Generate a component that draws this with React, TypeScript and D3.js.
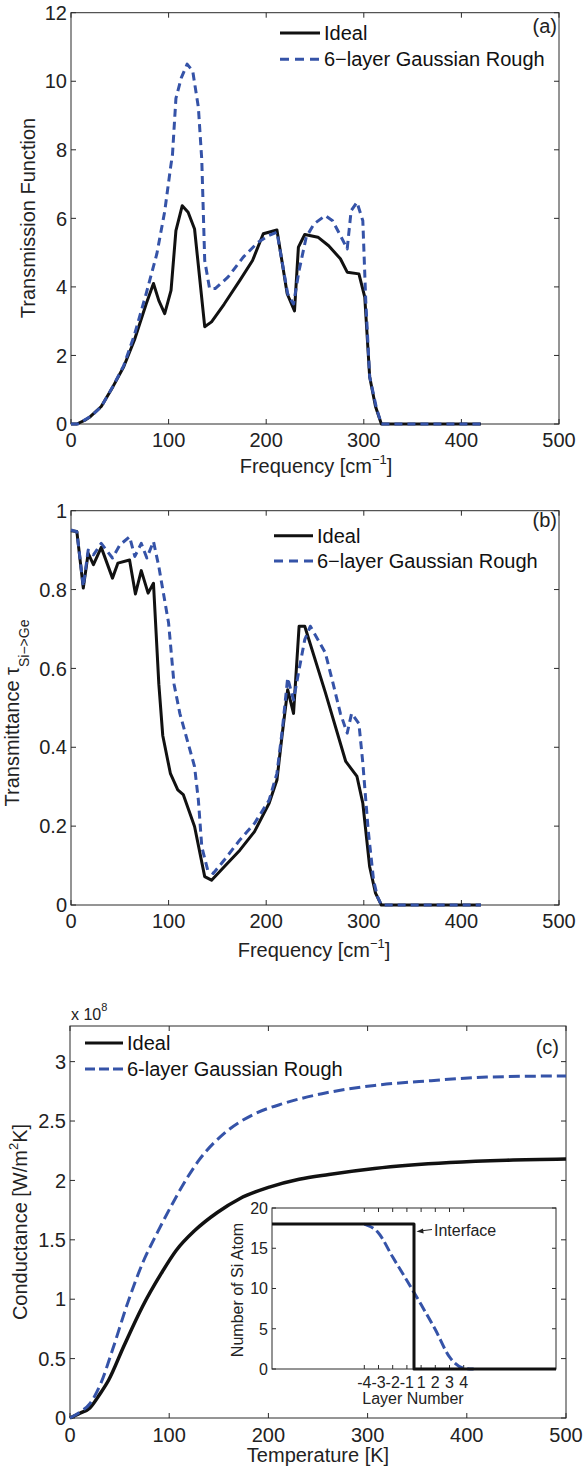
import React, { useEffect, useRef } from 'react'
import * as d3 from 'd3'

// (a) transmission function
const freqIdealA = [0, 6, 15, 20, 31, 43, 54, 65, 77, 84.5, 90, 96, 102.5, 107.5, 114, 120, 126.6, 137, 144, 157, 173, 186, 197, 211, 221.5, 229, 233, 239.5, 253, 264, 276, 283, 295, 301, 306, 312, 318, 420]
const transIdealA = [0, 0, 0.12, 0.22, 0.51, 1.09, 1.67, 2.45, 3.5, 4.1, 3.6, 3.22, 3.9, 5.64, 6.37, 6.18, 5.69, 2.84, 2.98, 3.5, 4.19, 4.77, 5.55, 5.66, 3.8, 3.3, 5.16, 5.53, 5.45, 5.2, 4.82, 4.43, 4.38, 3.7, 1.38, 0.51, 0, 0]
const freqRoughA = [0, 7, 20, 31, 43, 54, 65, 77, 88, 96, 102, 104, 107.5, 113, 119, 124.7, 130.5, 134, 137, 142, 147.7, 161, 176.5, 191.6, 203, 211, 222, 228, 233.7, 241, 249, 260.5, 268, 276, 283, 287, 293, 299, 302, 306, 313, 318, 420]
const transRoughA = [0, 0, 0.22, 0.5, 1.1, 1.7, 2.6, 3.8, 4.97, 6.2, 7.48, 7.87, 9.5, 10.1, 10.5, 10.3, 9.24, 7.7, 4.77, 3.95, 3.95, 4.29, 4.87, 5.3, 5.5, 5.6, 3.8, 3.5, 4.48, 5.45, 5.84, 6.08, 5.93, 5.5, 5.11, 6.22, 6.47, 5.93, 3.6, 1.38, 0.46, 0, 0]

// (b) transmittance
const freqIdealB = [0, 6, 12.6, 17.6, 23, 31, 42.5, 48, 60, 66, 72, 79, 84.5, 90, 94, 101.8, 109.4, 115, 126.6, 137, 144, 157, 173, 188, 203, 211, 216.5, 222, 228, 233.7, 239.5, 260.5, 281.5, 293, 299, 306, 312, 318, 420]
const transIdealB = [0.949, 0.947, 0.804, 0.892, 0.863, 0.907, 0.829, 0.867, 0.875, 0.789, 0.848, 0.791, 0.816, 0.56, 0.43, 0.334, 0.292, 0.28, 0.199, 0.072, 0.063, 0.097, 0.139, 0.186, 0.258, 0.317, 0.435, 0.546, 0.486, 0.707, 0.707, 0.54, 0.364, 0.326, 0.258, 0.097, 0.03, 0, 0]
const freqRoughB = [0, 6, 12.6, 17.6, 23, 31, 42.5, 50, 60, 65.4, 72, 77.7, 84.5, 90, 100, 105.6, 111.5, 119, 126.6, 130.5, 134, 140, 145.7, 157, 173, 188, 203, 211, 216.5, 222, 228, 233.7, 239.5, 245.2, 253, 260.5, 268, 276, 283, 287.5, 295, 299, 304.5, 310, 314, 318, 420]
const transRoughB = [0.951, 0.947, 0.808, 0.9, 0.888, 0.917, 0.88, 0.913, 0.934, 0.884, 0.917, 0.88, 0.922, 0.858, 0.715, 0.56, 0.486, 0.419, 0.351, 0.266, 0.148, 0.089, 0.08, 0.114, 0.165, 0.207, 0.266, 0.334, 0.444, 0.576, 0.52, 0.597, 0.673, 0.707, 0.673, 0.64, 0.567, 0.486, 0.436, 0.486, 0.46, 0.36, 0.19, 0.063, 0.021, 0, 0]

// (c) conductance, x 1e8
const tempIdeal = [0, 10, 20, 30, 39, 54, 73, 92, 107, 126, 148.5, 171, 201, 231, 261, 307, 383, 440, 500]
const condIdeal = [0, 0.04, 0.085, 0.2, 0.32, 0.6, 0.937, 1.217, 1.41, 1.58, 1.73, 1.846, 1.944, 2.01, 2.05, 2.1, 2.15, 2.17, 2.18]
const tempRough = [0, 10, 20, 31, 42.7, 58, 73, 88, 103, 118, 130, 156, 186, 216, 254, 307, 364, 420, 500]
const condRough = [0, 0.05, 0.12, 0.29, 0.57, 0.965, 1.3, 1.56, 1.8, 2.02, 2.17, 2.4, 2.56, 2.65, 2.73, 2.8, 2.84, 2.87, 2.88]

// inset: Si atoms per layer
const layerIdeal = [-10, 0, 0, 10]
const atomsIdeal = [18, 18, 0, 0]
const layerRough = [-3.5, -2.5, -1.5, -0.5, 0.5, 1.5, 2.5, 3.5, 4.2]
const atomsRough = [18, 16.9, 13.9, 11.0, 8.0, 4.9, 1.5, 0.1, 0]
const layerTicks = [-3.5, -2.5, -1.5, -0.5, 0.5, 1.5, 2.5, 3.5]
const layerTickLabels = ['-4', '-3', '-2', '-1', '1', '2', '3', '4']

const freqTicks = [0, 100, 200, 300, 400, 500]
const transATicks = [0, 2, 4, 6, 8, 10, 12]
const transBTicks = [0, 0.2, 0.4, 0.6, 0.8, 1]
const condTicks = [0, 0.5, 1, 1.5, 2, 2.5, 3]
const atomTicks = [0, 5, 10, 15, 20]

const BLUE = '#3553a8'
const BLACK = '#111'
const FONT = '"Liberation Sans", Arial, Helvetica, sans-serif'

type Sel = d3.Selection<SVGGElement, unknown, null, undefined>

function drawFrame (g: Sel, x: d3.ScaleLinear<number, number>, y: d3.ScaleLinear<number, number>,
  xTicks: number[], yTicks: number[], opts: { fs: number, tl: number, xLabelDy: number, xLabels?: string[] }) {
  const [x0, x1] = x.range()
  const [y0, y1] = y.range()
  g.append('rect')
    .attr('x', x0).attr('y', y1)
    .attr('width', x1 - x0).attr('height', y0 - y1)
    .attr('fill', 'white').attr('stroke', '#2a2a2a').attr('stroke-width', 1)
  xTicks.forEach((t, i) => {
    const px = x(t)
    g.append('line').attr('x1', px).attr('x2', px).attr('y1', y0).attr('y2', y0 - opts.tl).attr('stroke', '#2a2a2a')
    g.append('line').attr('x1', px).attr('x2', px).attr('y1', y1).attr('y2', y1 + opts.tl).attr('stroke', '#2a2a2a')
    g.append('text')
      .attr('x', px).attr('y', y0 + opts.xLabelDy)
      .attr('text-anchor', 'middle')
      .attr('font-size', opts.fs)
      .attr('fill', '#222')
      .text(opts.xLabels ? opts.xLabels[i] : String(t))
  })
  yTicks.forEach(t => {
    const py = y(t)
    g.append('line').attr('x1', x0).attr('x2', x0 + opts.tl).attr('y1', py).attr('y2', py).attr('stroke', '#2a2a2a')
    g.append('line').attr('x1', x1).attr('x2', x1 - opts.tl).attr('y1', py).attr('y2', py).attr('stroke', '#2a2a2a')
    g.append('text')
      .attr('x', x0 - 4).attr('y', py + opts.fs * 0.36)
      .attr('text-anchor', 'end')
      .attr('font-size', opts.fs)
      .attr('fill', '#222')
      .text(String(t))
  })
}

function drawLine (g: Sel, x: d3.ScaleLinear<number, number>, y: d3.ScaleLinear<number, number>,
  xs: number[], ys: number[], color: string, width: number, dash: string | null, curve: d3.CurveFactory) {
  const line = d3.line<number>()
    .x((d, i) => x(xs[i]))
    .y(d => y(d))
    .curve(curve)
  g.append('path')
    .datum(ys)
    .attr('d', line)
    .attr('fill', 'none')
    .attr('stroke', color)
    .attr('stroke-width', width)
    .attr('stroke-linejoin', 'round')
    .attr('stroke-dasharray', dash)
}

function drawLegend (g: Sel, lx: number, ly: number, gap: number, len: number, dash: string, labels: string[]) {
  g.append('line').attr('x1', lx).attr('x2', lx + len).attr('y1', ly).attr('y2', ly)
    .attr('stroke', BLACK).attr('stroke-width', 3)
  g.append('line').attr('x1', lx).attr('x2', lx + len).attr('y1', ly + gap).attr('y2', ly + gap)
    .attr('stroke', BLUE).attr('stroke-width', 3).attr('stroke-dasharray', dash)
  g.append('text').attr('x', lx + len + 4).attr('y', ly + 7).attr('font-size', 20).attr('fill', '#111').text(labels[0])
  g.append('text').attr('x', lx + len + 4).attr('y', ly + gap + 7).attr('font-size', 20).attr('fill', '#111').text(labels[1])
}

function App () {
  const ref = useRef<SVGSVGElement>(null)

  useEffect(() => {
    document.body.style.margin = '0'
    const svg = d3.select(ref.current)
    svg.selectAll('*').remove()
    const root = svg.append('g').attr('font-family', FONT) as unknown as Sel

    // ---- panel (a)
    const xa = d3.scaleLinear().domain([0, 500]).range([71, 559])
    const ya = d3.scaleLinear().domain([0, 12]).range([424, 12.7])
    const ga = root.append('g') as unknown as Sel
    drawFrame(ga, xa, ya, freqTicks, transATicks, { fs: 20, tl: 5, xLabelDy: 23 })
    drawLine(ga, xa, ya, freqIdealA, transIdealA, BLACK, 3, null, d3.curveLinear)
    drawLine(ga, xa, ya, freqRoughA, transRoughA, BLUE, 3, '8,5', d3.curveLinear)
    drawLegend(ga, 280, 33, 26.3, 40, '9,6', ['Ideal', '6\u2212layer Gaussian Rough'])
    ga.append('text').attr('x', 557).attr('y', 33).attr('text-anchor', 'end').attr('font-size', 20).attr('fill', '#222').text('(a)')
    const xla = ga.append('text').attr('x', 316).attr('y', 473).attr('text-anchor', 'middle').attr('font-size', 20).attr('fill', '#222')
    xla.append('tspan').text('Frequency [cm')
    xla.append('tspan').attr('font-size', 13).attr('dy', -9).text('\u22121')
    xla.append('tspan').attr('dy', 9).text(']')
    ga.append('text').attr('transform', 'translate(35,218) rotate(-90)').attr('text-anchor', 'middle')
      .attr('font-size', 20).attr('fill', '#222').text('Transmission Function')

    // ---- panel (b)
    const xb = d3.scaleLinear().domain([0, 500]).range([71, 559])
    const yb = d3.scaleLinear().domain([0, 1]).range([905, 510.7])
    const gb = root.append('g') as unknown as Sel
    drawFrame(gb, xb, yb, freqTicks, transBTicks, { fs: 20, tl: 5, xLabelDy: 23 })
    drawLine(gb, xb, yb, freqIdealB, transIdealB, BLACK, 3, null, d3.curveLinear)
    drawLine(gb, xb, yb, freqRoughB, transRoughB, BLUE, 3, '8,5', d3.curveLinear)
    drawLegend(gb, 274, 535.7, 25.3, 39, '9,6', ['Ideal', '6\u2212layer Gaussian Rough'])
    gb.append('text').attr('x', 557).attr('y', 527).attr('text-anchor', 'end').attr('font-size', 20).attr('fill', '#222').text('(b)')
    const xlb = gb.append('text').attr('x', 314).attr('y', 957).attr('text-anchor', 'middle').attr('font-size', 20).attr('fill', '#222')
    xlb.append('tspan').text('Frequency [cm')
    xlb.append('tspan').attr('font-size', 13).attr('dy', -9).text('\u22121')
    xlb.append('tspan').attr('dy', 9).text(']')
    const ylb = gb.append('text').attr('transform', 'translate(19,713) rotate(-90)').attr('text-anchor', 'middle')
      .attr('font-size', 20).attr('fill', '#222')
    ylb.append('tspan').text('Transmittance \u03c4')
    ylb.append('tspan').attr('font-size', 14).attr('dy', 10).text('Si\u2212>Ge')

    // ---- panel (c)
    const xc = d3.scaleLinear().domain([0, 500]).range([70, 566])
    const yc = d3.scaleLinear().domain([0, 3.3]).range([1418, 1026])
    const gc = root.append('g') as unknown as Sel
    drawFrame(gc, xc, yc, freqTicks, condTicks, { fs: 20, tl: 5, xLabelDy: 24 })
    drawLine(gc, xc, yc, tempIdeal, condIdeal, BLACK, 3.5, null, d3.curveMonotoneX)
    drawLine(gc, xc, yc, tempRough, condRough, BLUE, 3, '11,5', d3.curveMonotoneX)
    drawLegend(gc, 85, 1043, 26, 38, '10,4', ['Ideal', '6-layer Gaussian Rough'])
    gc.append('text').attr('x', 559).attr('y', 1054).attr('text-anchor', 'end').attr('font-size', 20).attr('fill', '#222').text('(c)')
    const expo = gc.append('text').attr('x', 71).attr('y', 1020).attr('font-size', 16).attr('fill', '#222')
    expo.append('tspan').text('x 10')
    expo.append('tspan').attr('font-size', 11).attr('dy', -9).text('8')
    gc.append('text').attr('x', 318).attr('y', 1462).attr('text-anchor', 'middle').attr('font-size', 20).attr('fill', '#222').text('Temperature [K]')
    const ylc = gc.append('text').attr('transform', 'translate(27,1222) rotate(-90)').attr('text-anchor', 'middle')
      .attr('font-size', 20).attr('fill', '#222')
    ylc.append('tspan').text('Conductance [W/m')
    ylc.append('tspan').attr('font-size', 13).attr('dy', -9).text('2')
    ylc.append('tspan').attr('dy', 9).text('K]')

    // ---- inset
    const xi = d3.scaleLinear().domain([-10, 10]).range([272, 556])
    const yi = d3.scaleLinear().domain([0, 20]).range([1369, 1208])
    const gi = root.append('g') as unknown as Sel
    drawFrame(gi, xi, yi, layerTicks, atomTicks, { fs: 16, tl: 4, xLabelDy: 19, xLabels: layerTickLabels })
    drawLine(gi, xi, yi, layerRough, atomsRough, BLUE, 3, '10,4', d3.curveMonotoneX)
    drawLine(gi, xi, yi, layerIdeal, atomsIdeal, BLACK, 3, null, d3.curveLinear)
    gi.append('text').attr('x', 413).attr('y', 1404).attr('text-anchor', 'middle').attr('font-size', 16).attr('fill', '#222').text('Layer Number')
    gi.append('text').attr('transform', 'translate(243,1290) rotate(-90)').attr('text-anchor', 'middle')
      .attr('font-size', 16).attr('fill', '#222').text('Number of Si Atom')
    gi.append('line').attr('x1', 420).attr('x2', 432).attr('y1', 1231).attr('y2', 1229.5).attr('stroke', '#222').attr('stroke-width', 1)
    gi.append('path').attr('d', 'M416.5,1231.6 L423,1228.6 L423.6,1233.6 Z').attr('fill', '#222')
    gi.append('text').attr('x', 434).attr('y', 1236).attr('font-size', 16).attr('fill', '#222').text('Interface')
  }, [])

  return <svg ref={ref} width={586} height={1470} style={{ display: 'block', background: '#fff' }} />
}

export default App
